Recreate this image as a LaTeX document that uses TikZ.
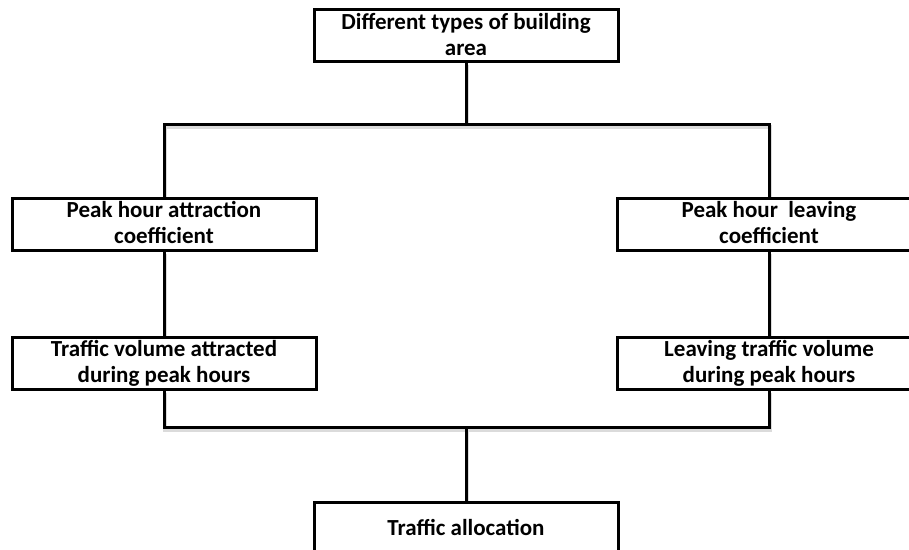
\documentclass[tikz,border=0pt]{standalone}
\usepackage{fontspec}
\setmainfont{Carlito}
\usetikzlibrary{backgrounds}
\begin{document}
\begin{tikzpicture}[x=1pt,y=-1pt,
  box/.style={draw=black, line width=3pt, fill=white, minimum width=304pt,
    minimum height=52pt, inner sep=0pt},
  txt/.style={inner sep=0pt, align=center, anchor=base,
    font=\bfseries\fontsize{23}{25.5}\selectfont},
  link/.style={line width=3pt, line join=miter,
    preaction={draw=black!14, line width=4pt,
      transform canvas={shift={(1pt,-2.5pt)}}}}]
\clip (0,0) rectangle (909,549);
\useasboundingbox (0,0) rectangle (909,549);
\node[box] (top) at (466,35) {};
\node[box] (la) at (164,224) {};
\node[box] (lb) at (164,363) {};
\node[box] (ra) at (769,224) {};
\node[box] (rb) at (769,363) {};
\node[box] (bot) at (466,528) {};
\coordinate (jt) at (466,124);
\coordinate (jb) at (466,427);
\begin{pgfonlayer}{background}
\draw[link] (top.south) -- (jt);
\draw[link] (la.north) |- (jt) -| (ra.north);
\draw[link] (la.south) -- (lb.north);
\draw[link] (ra.south) -- (rb.north);
\draw[link] (lb.south) |- (jb) -| (rb.south);
\draw[link] (jb) -- (bot.north);
\end{pgfonlayer}
\node[txt] (top-t) at (466,55) {Different types of building\\area};
\node[txt] (la-t) at (164,243) {Peak hour attraction\\coefficient};
\node[txt] (lb-t) at (164,382) {Traffic volume attracted\\during peak hours};
\node[txt] (ra-t) at (769,243) {Peak hour \ leaving\\coefficient};
\node[txt] (rb-t) at (769,382) {Leaving traffic volume\\during peak hours};
\node[txt] (bot-t) at (466,535) {Traffic allocation};
\end{tikzpicture}
\end{document}
